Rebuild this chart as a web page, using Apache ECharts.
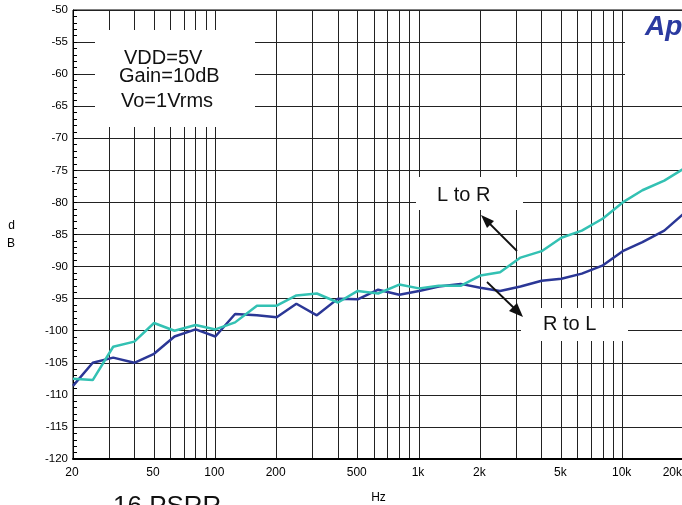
<!DOCTYPE html>
<html>
<head>
<meta charset="utf-8">
<script src="https://cdn.jsdelivr.net/npm/echarts@6/dist/echarts.min.js"></script>
<style>
html,body{margin:0;padding:0;background:#fff;}
#chart{width:682px;height:505px;}
</style>
</head>
<body>
<div id="chart"></div>
<script>
// Frequencies (Hz), 1/3-octave points
var freqs = [20, 25, 31.5, 40, 50, 63, 80, 100, 125, 160, 200, 250, 315, 400, 500, 630, 800,
  1000, 1250, 1600, 2000, 2500, 3150, 4000, 5000, 6300, 8000, 10000, 12500, 16000, 20000];
// Crosstalk L to R (dB)
var lToR = [-107.5, -107.7, -102.5, -101.7, -98.8, -100.0, -99.1, -99.8, -98.7, -96.1, -96.1,
  -94.5, -94.2, -95.6, -93.8, -94.2, -92.8, -93.4, -93.0, -93.0, -91.4, -90.9, -88.6, -87.6,
  -85.5, -84.4, -82.5, -80.0, -78.1, -76.6, -74.7];
// Crosstalk R to L (dB)
var rToL = [-108.6, -105.0, -104.2, -105.0, -103.6, -100.9, -99.8, -100.9, -97.4, -97.6, -97.9,
  -95.8, -97.6, -95.0, -95.1, -93.6, -94.4, -93.8, -93.1, -92.7, -93.3, -93.8, -93.1, -92.2,
  -91.9, -91.1, -89.8, -87.6, -86.2, -84.4, -81.7];
// X grid lines and labels
var xGridValues = [20, 30, 40, 50, 60, 70, 80, 90, 100, 200, 300, 400, 500, 600, 700, 800, 900,
  1000, 2000, 3000, 4000, 5000, 6000, 7000, 8000, 9000, 10000, 20000];
var xLabelValues = [20, 50, 100, 200, 500, 1000, 2000, 5000, 10000, 20000];
var xLabelTexts = ['20', '50', '100', '200', '500', '1k', '2k', '5k', '10k', '20k'];
// Y axis
var yMin = -120, yMax = -50, yStep = 5;
var infoLines = ['VDD=5V', 'Gain=10dB', 'Vo=1Vrms'];
var seriesNames = ['L to R', 'R to L'];
var bottomTitle = '16 PSRR';

function pairs(xs, ys) { return xs.map(function (x, i) { return [x, ys[i]]; }); }

var FONT = 'Arial, "Liberation Sans", sans-serif';
var chart = echarts.init(document.getElementById('chart'), null, {renderer: 'canvas'});

var option = {
  animation: false,
  backgroundColor: '#fff',
  grid: {left: 73, top: 10, right: -2, bottom: 46, outerBoundsMode: 'none', containLabel: false,
    show: true, borderColor: '#000', borderWidth: 1, backgroundColor: 'transparent'},
  xAxis: {
    type: 'log', logBase: 10, min: 20, max: 20000,
    name: 'Hz', nameLocation: 'middle', nameGap: 33,
    nameTextStyle: {fontFamily: FONT, fontSize: 12, color: '#000'},
    axisLine: {show: true, lineStyle: {color: '#000', width: 2}},
    axisTick: {show: false, customValues: xGridValues},
    axisLabel: {
      customValues: xLabelValues, margin: 8, fontFamily: FONT, fontSize: 12, color: '#000',
      alignMaxLabel: 'right', padding: [0, 2, 0, 0],
      formatter: function (v) { var i = xLabelValues.indexOf(Math.round(v)); return i >= 0 ? xLabelTexts[i] : ''; }
    },
    splitLine: {show: true, lineStyle: {color: '#222', width: 1}},
    minorTick: {show: false}, minorSplitLine: {show: false}
  },
  yAxis: {
    type: 'value', min: yMin, max: yMax, interval: yStep,
    name: 'd\nB', nameLocation: 'middle', nameRotate: 0, nameGap: 58,
    nameTextStyle: {fontFamily: FONT, fontSize: 12, color: '#000', lineHeight: 18.5, padding: [4, 0, 0, 0]},
    axisLine: {show: true, lineStyle: {color: '#000', width: 1}},
    axisTick: {show: true, inside: true, length: 4, lineStyle: {color: '#000'}},
    minorTick: {show: true, splitNumber: 5, length: 4, lineStyle: {color: '#000'}},
    axisLabel: {margin: 5, fontFamily: FONT, fontSize: 11.5, color: '#000'},
    splitLine: {show: true, lineStyle: {color: '#222', width: 1}}
  },
  series: [
    {name: seriesNames[1], type: 'line', data: pairs(freqs, rToL), symbol: 'none',
      lineStyle: {color: '#2b3796', width: 2.5}, z: 3},
    {name: seriesNames[0], type: 'line', data: pairs(freqs, lToR), symbol: 'none',
      lineStyle: {color: '#33c1b3', width: 2.5}, z: 4}
  ],
  graphic: [
    {type: 'rect', z: 100, shape: {x: 95, y: 30, width: 160, height: 97}, style: {fill: '#fff'}},
    {type: 'rect', z: 100, shape: {x: 625, y: 12, width: 60, height: 80}, style: {fill: '#fff'}},
    {type: 'rect', z: 100, shape: {x: 416, y: 177, width: 107, height: 33}, style: {fill: '#fff'}},
    {type: 'rect', z: 100, shape: {x: 521, y: 308, width: 107, height: 33}, style: {fill: '#fff'}},
    {type: 'text', z: 101, x: 124, y: 58, style: {text: infoLines[0], font: '20px ' + FONT, fill: '#111', textVerticalAlign: 'middle'}},
    {type: 'text', z: 101, x: 119, y: 76, style: {text: infoLines[1], font: '20px ' + FONT, fill: '#111', textVerticalAlign: 'middle'}},
    {type: 'text', z: 101, x: 121, y: 101, style: {text: infoLines[2], font: '20px ' + FONT, fill: '#111', textVerticalAlign: 'middle'}},
    {type: 'text', z: 101, x: 645, y: 27, style: {text: 'Ap', font: 'italic bold 28px ' + FONT, fill: '#2b3aa0', textVerticalAlign: 'middle'}},
    {type: 'text', z: 101, x: 437, y: 195, style: {text: seriesNames[0], font: '20px ' + FONT, fill: '#111', textVerticalAlign: 'middle'}},
    {type: 'text', z: 101, x: 543, y: 324.5, style: {text: seriesNames[1], font: '20px ' + FONT, fill: '#111', textVerticalAlign: 'middle'}},
    {type: 'line', z: 102, shape: {x1: 517, y1: 251, x2: 489, y2: 223}, style: {stroke: '#111', lineWidth: 1.8}},
    {type: 'polygon', z: 102, shape: {points: [[481, 215], [494, 221], [487, 228]]}, style: {fill: '#111'}},
    {type: 'line', z: 102, shape: {x1: 487, y1: 282, x2: 514, y2: 308}, style: {stroke: '#111', lineWidth: 1.8}},
    {type: 'polygon', z: 102, shape: {points: [[523, 317], [517, 303], [509, 311]]}, style: {fill: '#111'}},
    {type: 'text', z: 101, x: 113, y: 507, style: {text: bottomTitle, font: '26px ' + FONT, fill: '#111', textVerticalAlign: 'middle'}}
  ]
};
chart.setOption(option);
</script>
</body>
</html>
